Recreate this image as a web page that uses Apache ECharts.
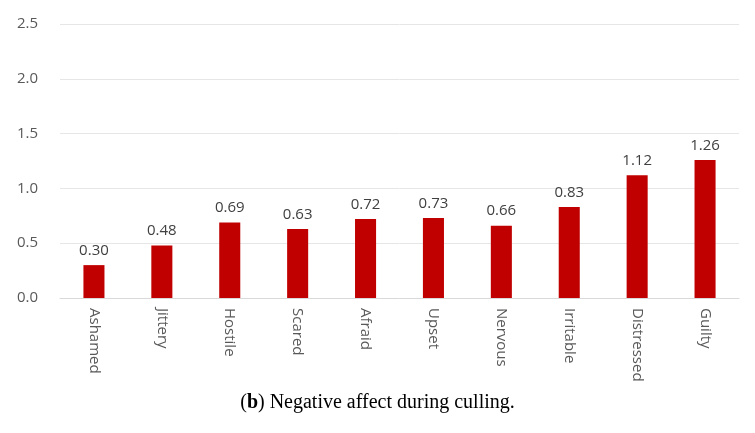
<!DOCTYPE html>
<html><head><meta charset="utf-8">
<script src="https://cdn.jsdelivr.net/npm/echarts@6/dist/echarts.min.js"></script>
<style>html,body{margin:0;padding:0;background:#fff}#c{width:755px;height:433px}</style>
</head><body><div id="c"></div>
<script>
const categories = ["Ashamed","Jittery","Hostile","Scared","Afraid","Upset","Nervous","Irritable","Distressed","Guilty"];
const values = [0.30,0.48,0.69,0.63,0.72,0.73,0.66,0.83,1.12,1.26];
const yTicks = [0, 0.5, 1.0, 1.5, 2.0, 2.5];
const captionBold = "b";
const captionText = " Negative affect during culling.";

const chart = echarts.init(document.getElementById('c'), null, {renderer:'canvas'});
chart.setOption({
  animation:false,
  grid:{left:60, right:16, top:24, bottom:135},
  xAxis:{type:'category', data:categories,
    axisLine:{lineStyle:{color:'#d9d9d9'}}, axisTick:{show:false},
    axisLabel:{rotate:-90, color:'#595959', fontFamily:'Open Sans', fontSize:15, margin:10}},
  yAxis:{type:'value', min:yTicks[0], max:yTicks[yTicks.length-1], interval:0.5,
    axisLine:{show:false}, axisTick:{show:false},
    splitLine:{lineStyle:{color:'#e6e6e6'}},
    axisLabel:{color:'#595959', fontFamily:'Open Sans', fontSize:15, margin:22,
      formatter:v=>v.toFixed(1)}},
  series:[{type:'bar', data:values, barWidth:'31%', itemStyle:{color:'#c00000'},
    label:{show:true, position:'top', distance:7, color:'#404040', fontFamily:'Open Sans', fontSize:15,
      formatter:p=>p.value.toFixed(2)}}],
  graphic:[{type:'text', left:'center', top:393,
    style:{rich:{b:{fontWeight:'bold', fontFamily:'Liberation Serif', fontSize:20, fill:'#000'},
                 n:{fontFamily:'Liberation Serif', fontSize:20, fill:'#000'}},
      text:'{n|(}{b|'+captionBold+'}{n|)'+captionText+'}'}}]
});
</script></body></html>
